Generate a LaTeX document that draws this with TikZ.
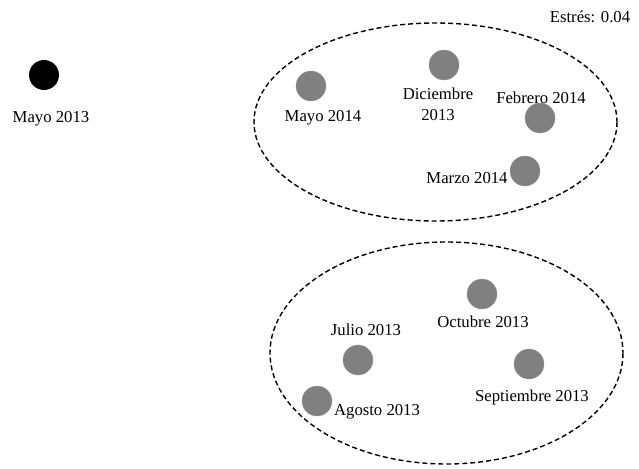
\documentclass[tikz,border=0pt]{standalone}
\usepackage{fontspec}
\setmainfont{Liberation Serif}
\begin{document}
\begin{tikzpicture}[x=1pt,y=-1pt,
  dot/.style={circle,fill=black!50,draw=black!40,line width=0.4pt,minimum size=30pt,inner sep=0pt},
  blackdot/.style={circle,fill=black,minimum size=30pt,inner sep=0pt},
  lbl/.style={font=\fontsize{16.7}{21}\selectfont,inner sep=0pt,align=center},
  group/.style={draw=black,line width=1.4pt,dash pattern=on 5pt off 3pt}]
\useasboundingbox (0,0) rectangle (639,468);
% groups
\draw[group] (435.5,122) ellipse [x radius=181.5, y radius=99];
\draw[group] (446.5,353) ellipse [x radius=176.5, y radius=111];
% stress
\node[lbl] (stress) at (590,17) {Estrés: 0.04};
% isolated
\node[blackdot] (may13) at (44,75) {};
\node[lbl] (may13l) at (51,119) {Mayo 2013};
% top group
\node[dot] (may14) at (311,86) {};
\node[lbl] (may14l) at (323,118) {Mayo 2014};
\node[dot] (dic13) at (444,65) {};
\node[lbl] (dic13l) at (438,104) {Diciembre\\2013};
\node[dot] (feb14) at (540,118) {};
\node[lbl] (feb14l) at (541,98) {Febrero 2014};
\node[dot] (mar14) at (525,171) {};
\node[lbl] (mar14l) at (467,178) {Marzo 2014};
% bottom group
\node[dot] (oct13) at (482,294) {};
\node[lbl] (oct13l) at (483,322) {Octubre 2013};
\node[dot] (jul13) at (358,360) {};
\node[lbl] (jul13l) at (366,330) {Julio 2013};
\node[dot] (sep13) at (529,364) {};
\node[lbl] (sep13l) at (532,397) {Septiembre 2013};
\node[dot] (ago13) at (317,401) {};
\node[lbl] (ago13l) at (377,412) {Agosto 2013};
\end{tikzpicture}
\end{document}
